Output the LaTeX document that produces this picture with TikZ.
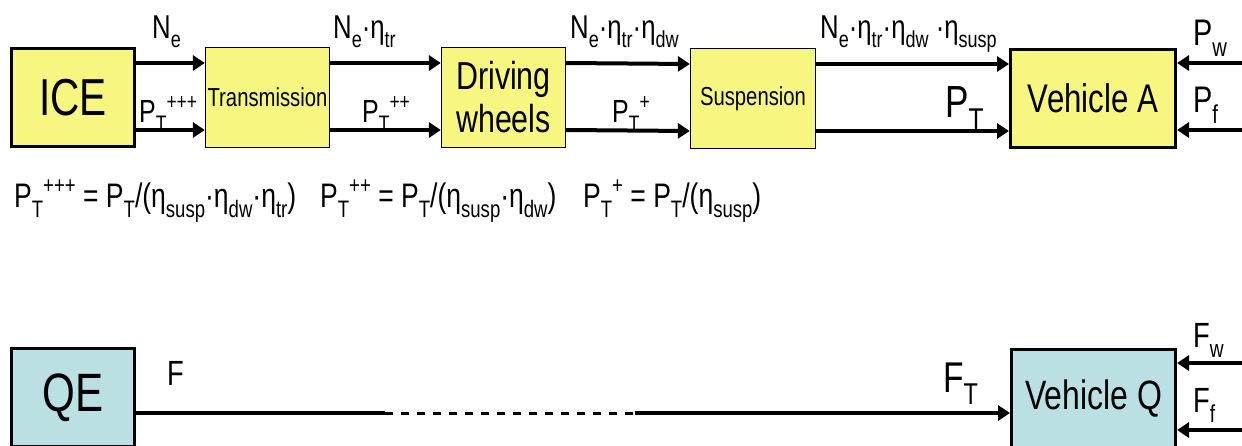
\documentclass[tikz,border=0pt]{standalone}
\usepackage{fontspec}
\setmainfont{Liberation Sans}[FakeStretch=0.78]
\usepackage{graphicx}
\usetikzlibrary{arrows.meta}
\definecolor{boxyellow}{RGB}{246,246,128}
\definecolor{boxblue}{RGB}{187,224,227}
\newcommand{\dsub}[1]{\raisebox{-0.3em}{\scalebox{0.7}{#1}}}
\newcommand{\usup}[1]{\raisebox{0.4em}{\scalebox{0.7}{#1}}}
\newcommand{\fs}[1]{\fontsize{#1}{#1}\selectfont}
\begin{document}
\begin{tikzpicture}[x=1pt,y=-1pt,
  box/.style={draw, fill=boxyellow, line width=1.3pt, inner sep=0pt, align=center,
    minimum width=124pt, minimum height=100pt},
  thickbox/.style={box, line width=3pt, minimum height=98pt},
  qbox/.style={thickbox, fill=boxblue},
  arr/.style={line width=4pt, -{Triangle[length=12pt,width=15pt]}},
  plain/.style={line width=4pt},
  dashline/.style={line width=3pt, dash pattern=on 8pt off 8pt},
  lbl/.style={anchor=base west, inner sep=0pt}]
\useasboundingbox (0,0) rectangle (1242,445);
\fill[white] (0,0) rectangle (1242,445);

% top row
\node[thickbox, minimum width=123pt, font=\fs{52}] (ice) at (73,97.5) {ICE};
\node[box, font=\fs{26}] (trans) at (267.5,97.5) {Transmission};
\node[box, font=\fontsize{39}{43}\selectfont] (dw) at (503.5,97.5) {Driving\\wheels};
\node[box, minimum width=125pt, font=\fs{26}] (susp) at (753,98.5) {Suspension};
\node[thickbox, minimum width=165pt, font=\fs{40}] (veha) at (1093,98.5) {Vehicle A};

\foreach \a/\b in {ice/trans, trans/dw, dw/susp, susp/veha}{
  \draw[arr] ([yshift=34.5pt]\a.east) -- ([yshift=34.5pt]\b.west);
  \draw[arr] ([yshift=-32.5pt]\a.east) -- ([yshift=-32.5pt]\b.west);
}
\coordinate (pwin) at (1242,63);
\coordinate (pfin) at (1242,130);
\draw[arr] (pwin) -- (veha.east |- pwin);
\draw[arr] (pfin) -- (veha.east |- pfin);

% labels top
\node[lbl, font=\fs{33}] (l1) at (152,38) {N\dsub{e}};
\node[lbl, font=\fs{33}] (l2) at (333,38) {N\dsub{e}·η\dsub{tr}};
\node[lbl, font=\fs{33}] (l3) at (570,38) {N\dsub{e}·η\dsub{tr}·η\dsub{dw}};
\node[lbl, font=\fs{33}] (l4) at (820,38) {N\dsub{e}·η\dsub{tr}·η\dsub{dw} ·η\dsub{susp}};
\node[lbl, font=\fs{32}] (l5) at (139,122) {P\dsub{T}\usup{+++}};
\node[lbl, font=\fs{32}] (l6) at (362,122) {P\dsub{T}\usup{++}};
\node[lbl, font=\fs{32}] (l7) at (612,122) {P\dsub{T}\usup{+}};
\node[lbl, font=\fs{45}] (l8) at (945,117) {P\dsub{T}};
\node[lbl, font=\fs{37}] (l9) at (1193,45) {P\dsub{w}};
\node[lbl, font=\fs{37}] (l10) at (1193,112) {P\dsub{f}};

% formulas
\node[lbl, font=\fs{34}] (f1) at (14,207) {P\dsub{T}\usup{+++} = P\dsub{T}/(η\dsub{susp}·η\dsub{dw}·η\dsub{tr})};
\node[lbl, font=\fs{34}] (f2) at (320,207) {P\dsub{T}\usup{++} = P\dsub{T}/(η\dsub{susp}·η\dsub{dw})};
\node[lbl, font=\fs{34}] (f3) at (583,207) {P\dsub{T}\usup{+} = P\dsub{T}/(η\dsub{susp})};

% bottom row
\node[qbox, minimum width=123pt, font=\fs{54}] (qe) at (73,397.5) {QE};
\node[qbox, minimum width=164pt, font=\fs{41}] (vehq) at (1093.5,398.5) {Vehicle Q};
\coordinate (d1) at (385,413);
\coordinate (d2) at (635,413);
\draw[plain] ([yshift=-15.5pt]qe.east) -- (d1);
\draw[dashline] (d1) -- (d2);
\draw[arr] (d2) -- (vehq.west |- d2);
\coordinate (fwin) at (1242,363);
\coordinate (ffin) at (1242,430);
\draw[arr] (fwin) -- (vehq.east |- fwin);
\draw[arr] (ffin) -- (vehq.east |- ffin);
\node[lbl, font=\fs{35}] (lf) at (167,385) {F};
\node[lbl, font=\fs{43}] (lft) at (943,392) {F\dsub{T}};
\node[lbl, font=\fs{35}] (lfw) at (1193,347) {F\dsub{w}};
\node[lbl, font=\fs{35}] (lff) at (1193,412) {F\dsub{f}};
\end{tikzpicture}
\end{document}
